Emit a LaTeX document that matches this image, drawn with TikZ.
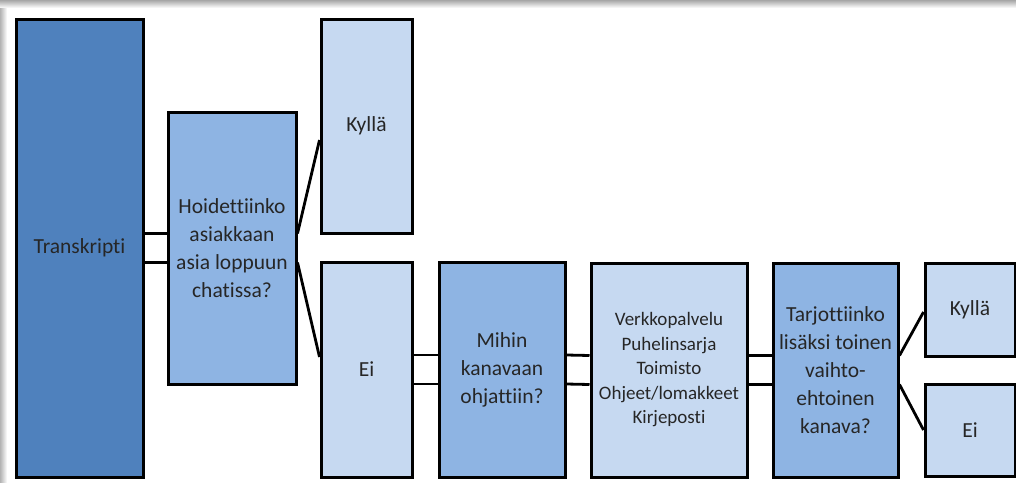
\documentclass[tikz,border=0pt]{standalone}
\usepackage{fontspec}
\setmainfont{Carlito}[Ligatures=NoCommon]
\definecolor{tummasin}{HTML}{4F81BD}
\definecolor{keskisin}{HTML}{8EB4E3}
\definecolor{vaaleasin}{HTML}{C6D9F1}
\tikzset{
  box/.style={draw=black, line width=3pt, inner sep=0pt, align=center, text=black!85, font=\fontsize{21.5pt}{28pt}\selectfont},
  tumma/.style={box, fill=tummasin},
  keski/.style={box, fill=keskisin},
  vaalea/.style={box, fill=vaaleasin},
  viiva/.style={line width=2.8pt}
}
\begin{document}
\begin{tikzpicture}[x=1pt, y=-1pt]
            \useasboundingbox (0,0) rectangle (1016,482);
            \shade[top color=black!35, bottom color=white] (0,0) rectangle (1016,8);
            \shade[left color=black!30, right color=white] (0,8) rectangle (7,482);
            \node[tumma, minimum width=127pt, minimum height=458pt] (transkripti) at (79.5,248) {Transkripti};
            \node[keski, minimum width=128pt, minimum height=272pt] (hoidettiinko) at (232,248) {Hoidettiinko\\asiakkaan\\asia loppuun\\chatissa?};
            \node[vaalea, minimum width=91pt, minimum height=214pt] (kylla1) at (366.5,126) {Kyllä};
            \node[vaalea, minimum width=91pt, minimum height=215pt] (ei1) at (366.5,369.5) {Ei};
            \node[keski, minimum width=126pt, minimum height=215pt] (mihin) at (502,369.5) {Mihin\\kanavaan\\ohjattiin?};
            \node[vaalea, minimum width=156pt, minimum height=214pt, font=\fontsize{19pt}{24.5pt}\selectfont] (kanavat) at (669,370) {Verkkopalvelu\\Puhelinsarja\\Toimisto\\Ohjeet/lomakkeet\\Kirjeposti};
            \node[keski, minimum width=125pt, minimum height=214pt] (tarjottiinko) at (835.5,370) {Tarjottiinko\\lisäksi toinen\\vaihto-\\ehtoinen\\kanava?};
            \node[vaalea, minimum width=90pt, minimum height=93pt] (kylla2) at (970,309.5) {Kyllä};
            \node[vaalea, minimum width=90pt, minimum height=92pt] (ei2) at (970,430) {Ei};
            % kaksoisviivat
            \foreach \s in {14.5,-14.5}{
                \draw[viiva] ([yshift=\s pt]transkripti.east) -- ([yshift=\s pt]hoidettiinko.west);
                \draw[viiva] ([yshift=\s pt]ei1.east) -- ([yshift=\s pt]mihin.west);
                \draw[viiva] ([yshift=\s pt]mihin.east) -- ([yshift=\s pt]kanavat.west);
                \draw[viiva] ([yshift=\s pt]kanavat.east) -- ([yshift=\s pt]tarjottiinko.west);
            }
            % haarat
            \draw[viiva] ([yshift=14.5pt]hoidettiinko.east) -- ([yshift=-14pt]kylla1.west);
            \draw[viiva] ([yshift=-14.5pt]hoidettiinko.east) -- ([yshift=12.5pt]ei1.west);
            \draw[viiva] ([yshift=14.5pt]tarjottiinko.east) -- ([yshift=-2.5pt]kylla2.west);
            \draw[viiva] ([yshift=-14.5pt]tarjottiinko.east) -- (ei2.west);
        \end{tikzpicture}
\end{document}
